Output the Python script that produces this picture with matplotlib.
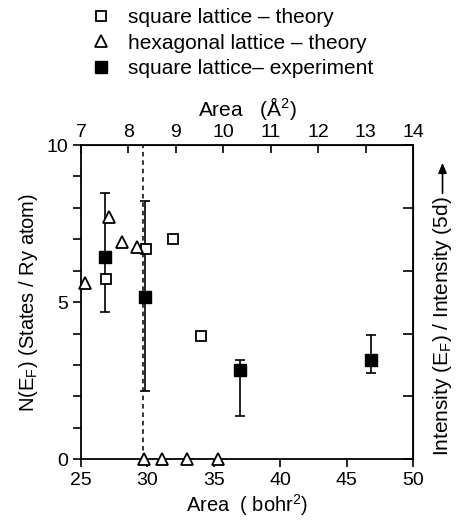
import numpy as np
import matplotlib
matplotlib.use("Agg")
import matplotlib.pyplot as plt

plt.rcParams['font.family'] = ['Liberation Sans', 'DejaVu Sans']
plt.rcParams['mathtext.fontset'] = 'custom'
plt.rcParams['mathtext.rm'] = 'Liberation Sans'
plt.rcParams['mathtext.it'] = 'Liberation Sans'

# === Data (area in bohr^2) ===
sq_theory_x = [26.9, 29.9, 31.9, 34.0]
sq_theory_y = [5.75, 6.7, 7.0, 3.93]

hex_theory_x = [25.3, 27.1, 28.1, 29.25, 29.75, 31.1, 33.0, 35.3]
hex_theory_y = [5.6, 7.7, 6.9, 6.75, 0.0, 0.0, 0.0, 0.0]

sq_exp_x = [26.8, 29.85, 36.95, 46.8]
sq_exp_y = [6.43, 5.17, 2.84, 3.16]
sq_exp_hi = [8.46, 8.22, 3.16, 3.94]
sq_exp_lo = [4.7, 2.17, 1.37, 2.74]

dashed_x = 29.7
BOHR2_TO_A2 = 0.28

# === Figure ===
fig = plt.figure(figsize=(4.6, 5.2), dpi=100)
ax = fig.add_axes([0.176, 0.117, 0.722, 0.604])

ax.plot([dashed_x, dashed_x], [0, 10], ls=(0, (3, 2.5)), color='black', lw=1.1, zorder=1)

yerr = [np.array(sq_exp_y) - np.array(sq_exp_lo), np.array(sq_exp_hi) - np.array(sq_exp_y)]
ax.errorbar(sq_exp_x, sq_exp_y, yerr=yerr, fmt='none', ecolor='black', elinewidth=1.2,
            capsize=3.5, capthick=1.2, zorder=2)

h1, = ax.plot(sq_theory_x, sq_theory_y, 's', ms=7, mfc='white', mec='black', mew=1.3,
              ls='none', zorder=3, label='square lattice – theory')
h2, = ax.plot(hex_theory_x, hex_theory_y, '^', ms=8.5, mfc='white', mec='black', mew=1.3,
              ls='none', zorder=3, clip_on=False, label='hexagonal lattice – theory')
h3, = ax.plot(sq_exp_x, sq_exp_y, 's', ms=8, mfc='black', mec='black',
              ls='none', zorder=4, label='square lattice– experiment')

ax.set_xlim(25, 50)
ax.set_ylim(0, 10)
ax.set_xticks([25, 30, 35, 40, 45, 50])
ax.set_yticks([0, 5, 10])
ax.set_yticks(np.arange(0, 11, 1), minor=True)
ax.tick_params(axis='both', which='major', labelsize=14, direction='out', length=6, width=1.2)
ax.tick_params(axis='y', which='minor', direction='out', length=6, width=1.2)
ax.tick_params(right=False, top=False)
for s in ax.spines.values():
    s.set_linewidth(1.3)

ax.set_xlabel('Area  ( bohr$^{\\mathregular{2}}$)', fontsize=14.5, labelpad=2)
ax.set_ylabel('N(E$_{\\mathregular{F}}$) (States / Ry atom)', fontsize=14.5, labelpad=4)

# top axis in A^2
top = ax.secondary_xaxis('top', functions=(lambda b: b * BOHR2_TO_A2, lambda a: a / BOHR2_TO_A2))
top.set_xticks(np.arange(7, 15, 1))
top.tick_params(direction='in', length=6, width=1.2, labelsize=14, pad=3)
top.set_xlabel('Area   (Å$^{\\mathregular{2}}$)', fontsize=15, labelpad=6)

# right axis: ticks only
right = ax.secondary_yaxis('right')
right.set_yticks(np.arange(0, 11, 2))
right.set_yticklabels([])
right.tick_params(direction='in', length=7, width=1.2)

fig.text(0.962, 0.123, 'Intensity (E$_{\\mathregular{F}}$) / Intensity (5d)', rotation=90,
         ha='center', va='bottom', fontsize=15)
fig.patches.append(matplotlib.patches.FancyArrowPatch(
    (0.962, 1 - 196 / 520), (0.962, 1 - 160 / 520), transform=fig.transFigure,
    arrowstyle='-|>,head_length=6,head_width=2.5', color='black', lw=1.2))

fig.legend(handles=[h1, h2, h3], loc='upper left', bbox_to_anchor=(0.165, 1.012),
           frameon=False, fontsize=15, handlelength=1.0, handletextpad=0.8,
           labelspacing=0.3, borderaxespad=0.3)

fig.savefig('out.png', dpi=100)
